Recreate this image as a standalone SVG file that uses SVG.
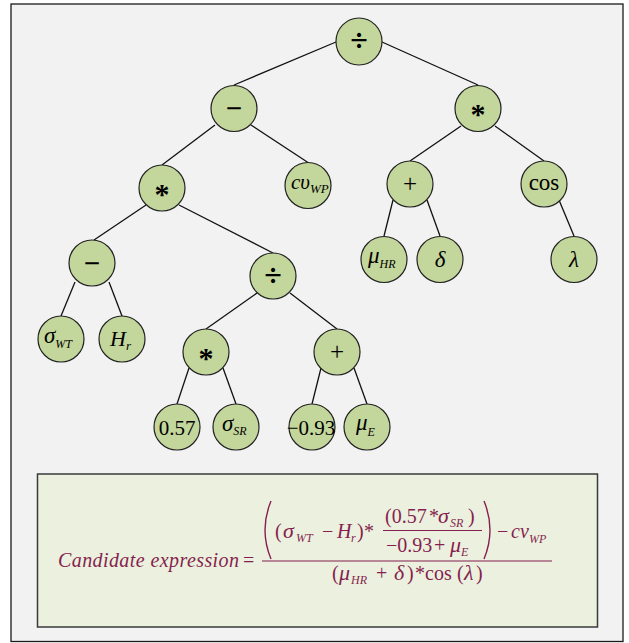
<svg xmlns="http://www.w3.org/2000/svg" width="629" height="643" viewBox="0 0 629 643">
<style>
.n{fill:#c3d69b;stroke:#222;stroke-width:1.2}
.t{font-family:"Liberation Serif","Times New Roman",serif;fill:#000}
.i{font-style:italic}
.c line{stroke:#111;stroke-width:1.3}
.f{font-family:"Liberation Serif","Times New Roman",serif;fill:#861f4f;font-size:20px}
.g{font-size:22px;font-style:italic}
.fs{font-size:12px;font-style:italic}
</style>
<rect x="11" y="4" width="612" height="637.5" fill="#f2f2f2" stroke="#1a1a1a" stroke-width="1.3"/>
<g id="connectors" class="c">
<line x1="336" y1="42" x2="234" y2="85"/>
<line x1="382" y1="42" x2="478" y2="85"/>
<line x1="215" y1="125" x2="162" y2="165"/>
<line x1="251" y1="125" x2="308" y2="162.5"/>
<line x1="461" y1="126" x2="410" y2="161"/>
<line x1="495" y1="126" x2="544" y2="161"/>
<line x1="146" y1="205" x2="94" y2="240"/>
<line x1="179" y1="205" x2="273" y2="253"/>
<line x1="393" y1="200" x2="384" y2="236"/>
<line x1="427" y1="200" x2="440" y2="236"/>
<line x1="559" y1="200" x2="574" y2="236"/>
<line x1="75" y1="282" x2="61" y2="316"/>
<line x1="109" y1="282" x2="122" y2="316"/>
<line x1="257" y1="293" x2="206" y2="329"/>
<line x1="290" y1="293" x2="337" y2="329"/>
<line x1="189" y1="368" x2="177" y2="404"/>
<line x1="223" y1="368" x2="236" y2="404"/>
<line x1="321" y1="368" x2="312" y2="404"/>
<line x1="354" y1="368" x2="367" y2="404"/>
</g>
<g id="n-root"><ellipse class="n" cx="359" cy="41.5" rx="23" ry="23.5"/><text class="t" x="359" y="51" font-size="32" font-weight="bold" text-anchor="middle">÷</text></g>
<g id="n-minus1"><circle class="n" cx="234" cy="108.5" r="23"/><text class="t" x="234" y="118" font-size="29" font-weight="bold" text-anchor="middle" font-family="Liberation Sans,Arial,sans-serif">−</text></g>
<g id="n-mul1"><circle class="n" cx="478" cy="108.5" r="23"/><text class="t" x="478" y="124" font-size="30" font-weight="bold" text-anchor="middle">*</text></g>
<g id="n-mul2"><circle class="n" cx="162" cy="188" r="23"/><text class="t" x="162" y="203.5" font-size="30" font-weight="bold" text-anchor="middle">*</text></g>
<g id="n-cv"><circle class="n" cx="308" cy="185.5" r="23"/><text class="t i" x="291" y="189" font-size="21">cυ<tspan font-size="13" dy="4">WP</tspan></text></g>
<g id="n-plus1"><circle class="n" cx="410" cy="184" r="23"/><text class="t" x="410" y="192" font-size="25" text-anchor="middle">+</text></g>
<g id="n-cos"><circle class="n" cx="544" cy="184" r="23"/><text class="t" x="544" y="190" font-size="23" text-anchor="middle">cos</text></g>
<g id="n-minus2"><circle class="n" cx="92" cy="263" r="23"/><text class="t" x="92" y="272.5" font-size="29" font-weight="bold" text-anchor="middle" font-family="Liberation Sans,Arial,sans-serif">−</text></g>
<g id="n-div2"><circle class="n" cx="273" cy="276" r="23"/><text class="t" x="273" y="285.5" font-size="32" font-weight="bold" text-anchor="middle">÷</text></g>
<g id="n-muHR"><circle class="n" cx="384" cy="259.5" r="23"/><text class="t i" x="368" y="263" font-size="23">μ<tspan font-size="12" dy="5">HR</tspan></text></g>
<g id="n-delta"><circle class="n" cx="440" cy="259.5" r="23"/><text class="t i" x="440" y="267" font-size="23" text-anchor="middle">δ</text></g>
<g id="n-lambda"><circle class="n" cx="574" cy="259.5" r="23"/><text class="t i" x="574" y="267" font-size="23" text-anchor="middle">λ</text></g>
<g id="n-sigmaWT"><circle class="n" cx="61" cy="339" r="23"/><text class="t i" x="44" y="343" font-size="23">σ<tspan font-size="12" dy="5">WT</tspan></text></g>
<g id="n-Hr"><circle class="n" cx="122" cy="339" r="23"/><text class="t i" x="110" y="346" font-size="22">H<tspan font-size="13" dy="4">r</tspan></text></g>
<g id="n-mul3"><circle class="n" cx="206" cy="352" r="23"/><text class="t" x="206" y="367.5" font-size="30" font-weight="bold" text-anchor="middle">*</text></g>
<g id="n-plus2"><circle class="n" cx="337" cy="352" r="23"/><text class="t" x="337" y="360" font-size="25" text-anchor="middle">+</text></g>
<g id="n-057"><circle class="n" cx="177" cy="427" r="23"/><text class="t" x="177" y="435" font-size="21" text-anchor="middle">0.57</text></g>
<g id="n-sigmaSR"><circle class="n" cx="236" cy="427" r="23"/><text class="t i" x="222" y="431" font-size="23">σ<tspan font-size="12" dy="4">SR</tspan></text></g>
<g id="n-m093"><circle class="n" cx="312" cy="427" r="23"/><text class="t" x="311" y="435" font-size="21" text-anchor="middle">−0.93</text></g>
<g id="n-muE"><circle class="n" cx="367" cy="427" r="23"/><text class="t i" x="356" y="430" font-size="23">μ<tspan font-size="12" dy="6">E</tspan></text></g>
<g id="formula">
<rect x="37.5" y="474" width="560" height="153" fill="#ebf1de" stroke="#3a3a3a" stroke-width="1.5"/>
<text class="f i" x="58" y="567" textLength="181" lengthAdjust="spacing">Candidate expression</text>
<text class="f" x="243" y="567">=</text>
<line x1="262" y1="561" x2="552" y2="561" stroke="#861f4f" stroke-width="1.1"/>
<path d="M271 501 Q259 530 271 559" fill="none" stroke="#861f4f" stroke-width="1.4"/>
<path d="M484 501 Q496 530 484 559" fill="none" stroke="#861f4f" stroke-width="1.4"/>
<text class="f" x="275" y="538">(</text>
<text class="f g" x="283" y="538">σ</text>
<text class="f fs" x="296" y="542">WT</text>
<text class="f" x="322" y="538">−</text>
<text class="f i" x="337" y="538">H</text>
<text class="f fs" x="351" y="542">r</text>
<text class="f" x="357" y="538">)</text>
<text class="f" x="364" y="538">*</text>
<text class="f" x="385" y="523">(0.57</text>
<text class="f" x="429" y="523">*</text>
<text class="f g" x="438" y="523">σ</text>
<text class="f fs" x="450" y="527">SR</text>
<text class="f" x="468" y="523">)</text>
<line x1="383" y1="530.5" x2="482" y2="530.5" stroke="#861f4f" stroke-width="1"/>
<text class="f" x="386" y="552">−0.93</text>
<text class="f" x="434" y="552">+</text>
<text class="f g" x="450" y="552">μ</text>
<text class="f fs" x="461" y="556">E</text>
<text class="f" x="497" y="538">−</text>
<text class="f i" x="511" y="538">cv</text>
<text class="f fs" x="529" y="543">WP</text>
<text class="f" x="332" y="580">(</text>
<text class="f g" x="339" y="580">μ</text>
<text class="f fs" x="351" y="584">HR</text>
<text class="f" x="376" y="580">+</text>
<text class="f g" x="394" y="580">δ</text>
<text class="f" x="407" y="580">)</text>
<text class="f" x="415" y="580">*</text>
<text class="f" x="425" y="580">cos</text>
<text class="f" x="457" y="580">(</text>
<text class="f g" x="464" y="580">λ</text>
<text class="f" x="476" y="580">)</text>
</g>
</svg>
